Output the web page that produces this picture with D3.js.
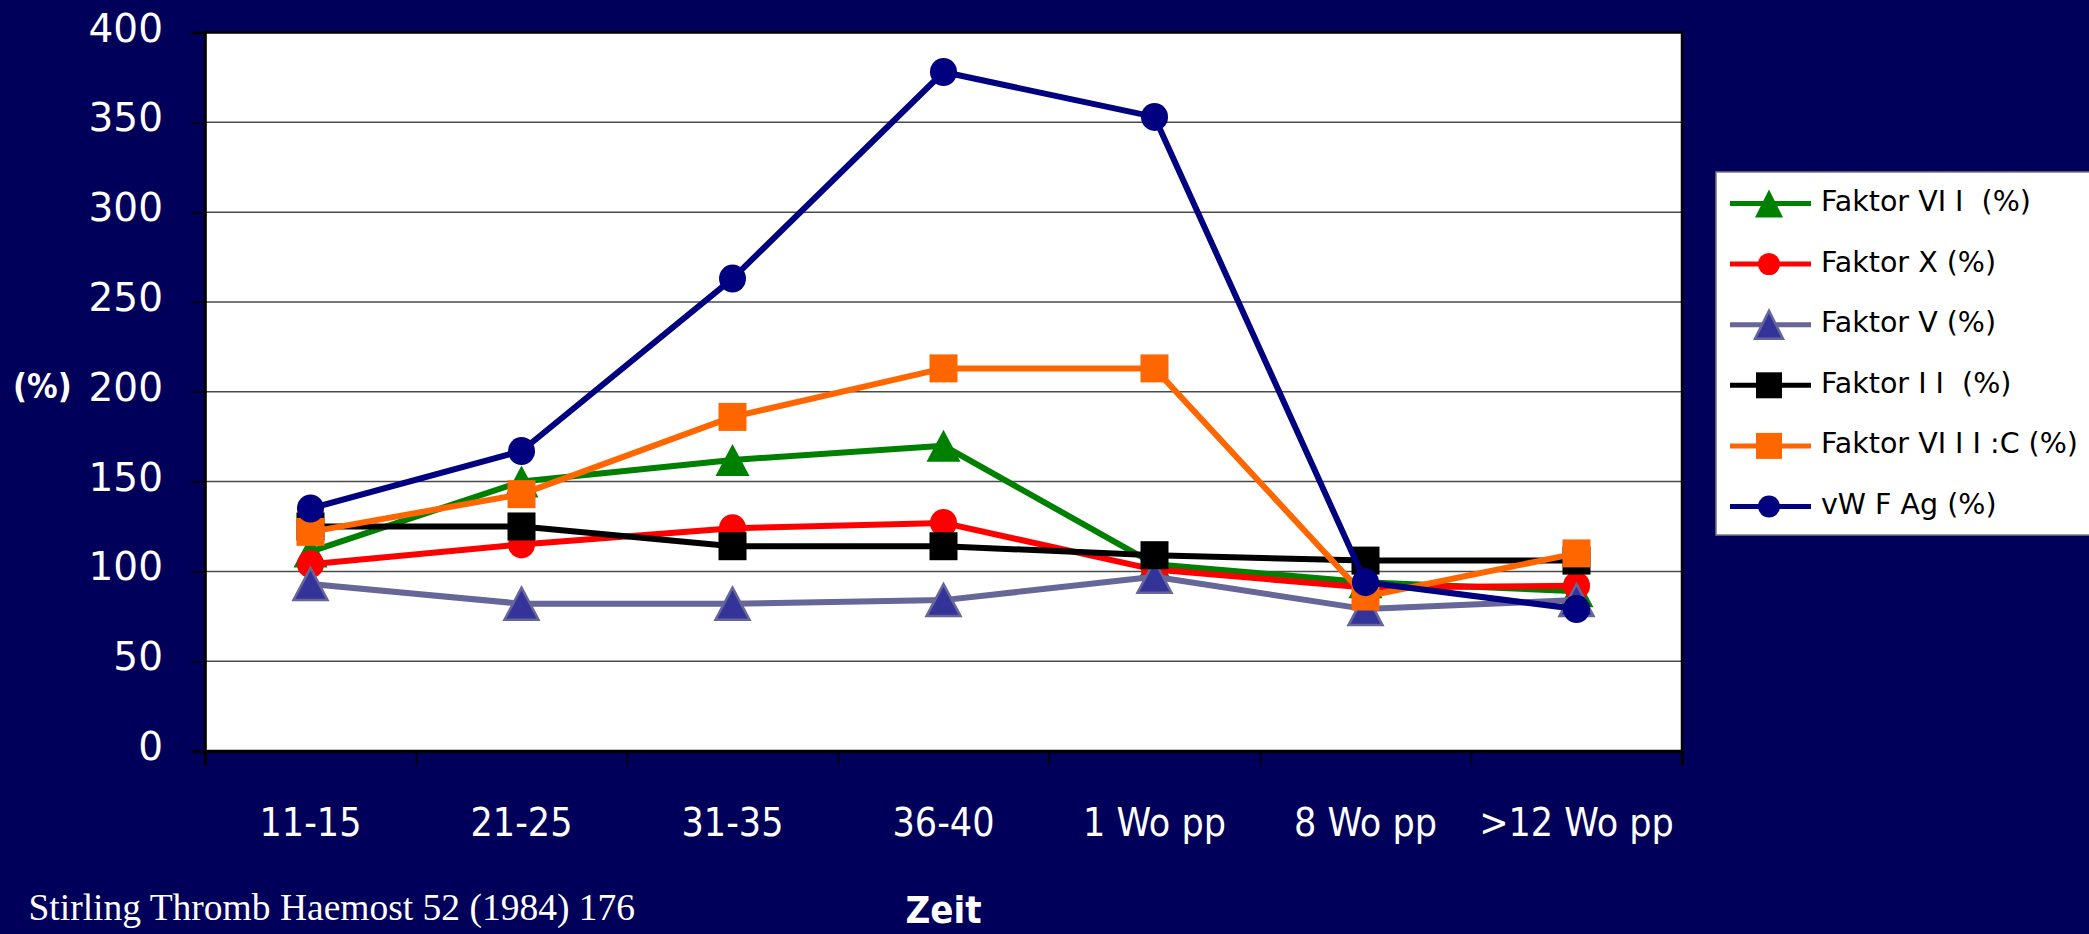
<!DOCTYPE html>
<html>
<head>
<meta charset="utf-8">
<script src="https://cdn.jsdelivr.net/npm/d3@7"></script>
<style>
  html, body { margin: 0; padding: 0; background: #00005A; }
  svg { display: block; }
</style>
</head>
<body>
<svg id="chart" width="2089" height="934"></svg>
<script>
// ---- data ----
const categories = ["11-15", "21-25", "31-35", "36-40", "1 Wo pp", "8 Wo pp", ">12 Wo pp"];
const seriesNames = ["Faktor VI I  (%)", "Faktor X (%)", "Faktor V (%)", "Faktor I I  (%)", "Faktor VI I I :C (%)", "vW F Ag (%)"];
const faktorVII  = [111, 150, 162, 170, 104, 94, 89];
const faktorX    = [104, 115, 124, 127, 101, 91, 92];
const faktorV    = [93, 82, 82, 84, 97, 79, 84];
const faktorII   = [125, 125, 114, 114, 109, 106, 106];
const faktorVIII = [122, 143, 186, 213, 213, 86, 110];
const vwfAg      = [135, 167, 263, 378, 353, 94, 79];
const yTicks = [0, 50, 100, 150, 200, 250, 300, 350, 400];
const yLabel = "(%)";
const xLabel = "Zeit";
const sourceNote = "Stirling Thromb Haemost 52 (1984) 176";

// ---- styles ----
const styles = [
  {line: "#008000", fill: "#008000", stroke: "none", shape: "triangle"},
  {line: "#FF0000", fill: "#FF0000", stroke: "none", shape: "circle"},
  {line: "#666699", fill: "#333399", stroke: "#666699", shape: "triangle"},
  {line: "#000000", fill: "#000000", stroke: "none", shape: "square"},
  {line: "#FF6600", fill: "#FF6600", stroke: "none", shape: "square"},
  {line: "#000080", fill: "#000080", stroke: "none", shape: "circle"}
];
const seriesValues = [faktorVII, faktorX, faktorV, faktorII, faktorVIII, vwfAg];

const svg = d3.select("#chart");
const plot = {left: 205, right: 1682, top: 32.5, bottom: 751};

const x = d3.scaleBand().domain(categories).range([plot.left, plot.right]);
const xBound = d3.scaleLinear().domain([0, categories.length]).range([plot.left, plot.right]);
const y = d3.scaleLinear().domain([0, 400]).range([plot.bottom, plot.top]);
const cx = c => x(c) + x.bandwidth() / 2;

// plot background
svg.append("rect")
  .attr("x", plot.left).attr("y", plot.top)
  .attr("width", plot.right - plot.left).attr("height", plot.bottom - plot.top)
  .attr("fill", "#ffffff");

// gridlines
svg.append("g").selectAll("line")
  .data(yTicks.filter(t => t > 0 && t < 400))
  .join("line")
  .attr("x1", plot.left).attr("x2", plot.right)
  .attr("y1", d => y(d)).attr("y2", d => y(d))
  .attr("stroke", "#4a4a4a").attr("stroke-width", 1.5);

// plot border
svg.append("rect")
  .attr("x", plot.left).attr("y", plot.top)
  .attr("width", plot.right - plot.left).attr("height", plot.bottom - plot.top)
  .attr("fill", "none").attr("stroke", "#000").attr("stroke-width", 2.5);

// y axis
const yAxis = svg.append("g")
  .attr("transform", `translate(${plot.left},0)`)
  .call(d3.axisLeft(y).tickValues(yTicks).tickSize(14).tickPadding(28).tickFormat(d3.format("d")));
yAxis.select(".domain").attr("stroke", "#000").attr("stroke-width", 2.5);
yAxis.selectAll(".tick line").attr("stroke", "#000").attr("stroke-width", 1.5);
yAxis.selectAll(".tick text")
  .attr("fill", "#fff").attr("dy", null).attr("y", 8.5)
  .style("font-family", "'DejaVu Sans', sans-serif").style("font-size", "39px");

// x axis: boundary ticks
const xAxisTicks = svg.append("g")
  .attr("transform", `translate(0,${plot.bottom})`)
  .call(d3.axisBottom(xBound).tickValues(d3.range(0, categories.length + 1)).tickSize(14).tickFormat(""));
xAxisTicks.select(".domain").attr("stroke", "#000").attr("stroke-width", 3);
xAxisTicks.selectAll(".tick line").attr("stroke", "#000").attr("stroke-width", 1.5);

// x axis: labels
const xAxisLabels = svg.append("g")
  .attr("transform", `translate(0,${plot.bottom})`)
  .call(d3.axisBottom(x).tickSize(0));
xAxisLabels.select(".domain").remove();
xAxisLabels.selectAll(".tick text")
  .attr("fill", "#fff").attr("dy", null).attr("y", 85)
  .style("font-family", "'DejaVu Sans Condensed', 'DejaVu Sans', sans-serif")
  .style("font-stretch", "condensed")
  .style("font-size", "39px");

// markers
function drawMarker(g, shape, size, st) {
  let el;
  if (shape === "triangle") {
    const w = size.tw, h = size.th;
    el = g.append("path").attr("d", `M0,${-h/2}L${w/2},${h/2}L${-w/2},${h/2}Z`);
  } else if (shape === "circle") {
    el = g.append("ellipse").attr("rx", size.rx).attr("ry", size.ry);
  } else {
    el = g.append("rect").attr("x", -size.sq/2).attr("y", -size.sq/2)
      .attr("width", size.sq).attr("height", size.sq);
  }
  el.attr("fill", st.fill);
  if (st.stroke !== "none") el.attr("stroke", st.stroke).attr("stroke-width", 2.5);
  return el;
}

const chartSize = {tw: 34, th: 32, rx: 13.5, ry: 14, sq: 28};
const legendSize = {tw: 28, th: 28, rx: 11, ry: 11, sq: 26};

const line = d3.line().x(d => cx(d.c)).y(d => y(d.v));

seriesValues.forEach((vals, i) => {
  const st = styles[i];
  const pts = vals.map((v, j) => ({c: categories[j], v}));
  const g = svg.append("g");
  g.append("path").datum(pts)
    .attr("d", line).attr("fill", "none")
    .attr("stroke", st.line).attr("stroke-width", 6)
    .attr("stroke-linejoin", "round");
  pts.forEach(p => {
    const mg = g.append("g").attr("transform", `translate(${cx(p.c)},${y(p.v)})`);
    drawMarker(mg, st.shape, chartSize, st);
  });
});

// legend
const legend = svg.append("g");
legend.append("rect")
  .attr("x", 1716).attr("y", 172).attr("width", 400).attr("height", 363)
  .attr("fill", "#fff").attr("stroke", "#7a7a7a").attr("stroke-width", 1.5);
seriesNames.forEach((name, i) => {
  const st = styles[i];
  const ry = 203.5 + i * 60.6;
  const lg = legend.append("g").attr("transform", `translate(0,${ry})`);
  lg.append("line").attr("x1", 1730).attr("x2", 1811).attr("y1", 0).attr("y2", 0)
    .attr("stroke", st.line).attr("stroke-width", 5);
  const mg = lg.append("g").attr("transform", "translate(1769,0)");
  drawMarker(mg, st.shape, legendSize, st);
  lg.append("text").attr("x", 1821).attr("y", 7.5)
    .attr("fill", "#000")
    .style("font-family", "'DejaVu Sans', sans-serif").style("font-size", "28.5px")
    .style("white-space", "pre").attr("xml:space", "preserve")
    .text(name);
});

// axis titles and note
svg.append("text").attr("x", 13).attr("y", 398)
  .attr("fill", "#fff").attr("font-weight", "bold")
  .style("font-family", "'DejaVu Sans Condensed', 'DejaVu Sans', sans-serif")
  .style("font-stretch", "condensed").style("font-size", "34px")
  .text(yLabel);
svg.append("text").attr("x", (plot.left + plot.right) / 2).attr("y", 923)
  .attr("text-anchor", "middle").attr("fill", "#fff").attr("font-weight", "bold")
  .style("font-family", "'DejaVu Sans Condensed', 'DejaVu Sans', sans-serif")
  .style("font-stretch", "condensed").style("font-size", "38px")
  .text(xLabel);
svg.append("text").attr("x", 28.5).attr("y", 920)
  .attr("fill", "#fff")
  .style("font-family", "'Liberation Serif', 'Times New Roman', serif").style("font-size", "37.5px")
  .text(sourceNote);
</script>
</body>
</html>
